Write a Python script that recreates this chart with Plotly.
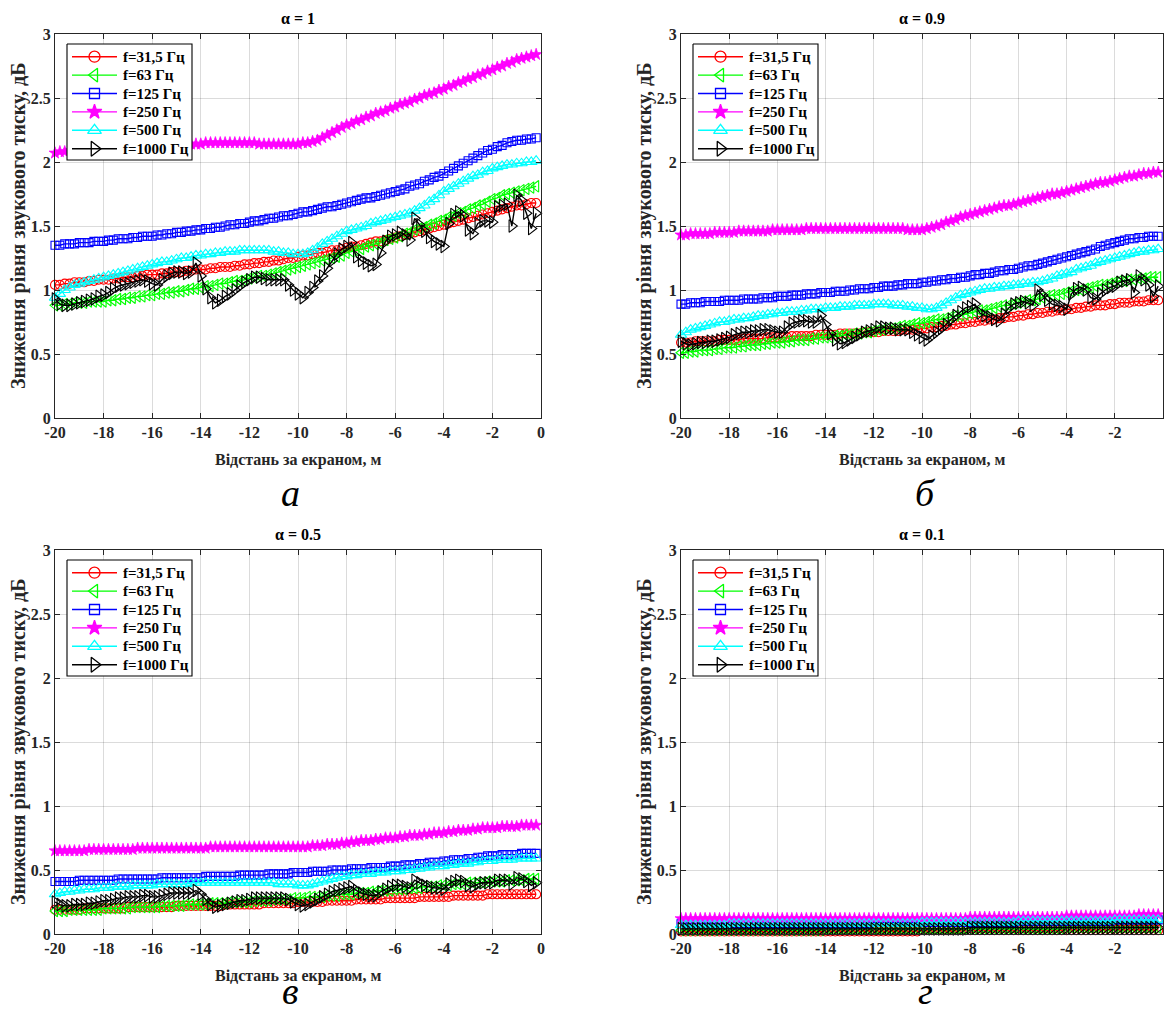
import plotly.graph_objects as go

# ---------------- data ----------------
x_m = [round(-20 + 0.2 * i, 1) for i in range(100)]  # distance behind screen, m
x_ticks = [-20, -18, -16, -14, -12, -10, -8, -6, -4, -2, 0]
y_ticks = [0, 0.5, 1, 1.5, 2, 2.5, 3]
y_tick_text = ["0", "0.5", "1", "1.5", "2", "2.5", "3"]
series_names = ["f=31,5 Гц", "f=63 Гц", "f=125 Гц", "f=250 Гц", "f=500 Гц", "f=1000 Гц"]
panel_titles = ["α = 1", "α = 0.9", "α = 0.5", "α = 0.1"]
panel_letters = ["а", "б", "в", "г"]

# ---- panel а (alpha = 1)
red_a = [1.04,1.04,1.05,1.05,1.06,1.06,1.06,1.07,1.07,1.08,
         1.08,1.08,1.09,1.09,1.10,1.10,1.10,1.11,1.11,1.12,
         1.12,1.12,1.13,1.13,1.14,1.14,1.14,1.15,1.15,1.16,
         1.16,1.16,1.17,1.17,1.18,1.18,1.18,1.19,1.19,1.20,
         1.20,1.21,1.21,1.22,1.22,1.23,1.23,1.24,1.25,1.25,
         1.26,1.27,1.27,1.28,1.29,1.29,1.30,1.31,1.31,1.32,
         1.33,1.34,1.34,1.35,1.36,1.37,1.38,1.38,1.39,1.40,
         1.41,1.42,1.43,1.44,1.45,1.46,1.47,1.48,1.49,1.50,
         1.51,1.52,1.53,1.54,1.55,1.56,1.57,1.58,1.59,1.60,
         1.61,1.62,1.63,1.64,1.65,1.66,1.66,1.67,1.68,1.68]
green_a = [0.88,0.88,0.89,0.89,0.90,0.90,0.90,0.91,0.91,0.91,
           0.91,0.92,0.92,0.93,0.93,0.94,0.94,0.95,0.95,0.96,
           0.96,0.97,0.97,0.98,0.98,0.99,0.99,1.00,1.01,1.01,
           1.02,1.03,1.03,1.04,1.05,1.05,1.06,1.07,1.07,1.08,
           1.09,1.10,1.11,1.11,1.12,1.13,1.14,1.15,1.16,1.17,
           1.18,1.19,1.20,1.21,1.22,1.23,1.24,1.25,1.26,1.27,
           1.29,1.30,1.31,1.32,1.34,1.35,1.36,1.37,1.39,1.40,
           1.41,1.42,1.44,1.45,1.47,1.48,1.49,1.51,1.52,1.54,
           1.55,1.57,1.58,1.60,1.61,1.63,1.64,1.66,1.67,1.69,
           1.71,1.72,1.74,1.75,1.76,1.77,1.78,1.79,1.80,1.81]
blue_a = [1.35,1.35,1.36,1.36,1.36,1.37,1.37,1.37,1.38,1.38,
          1.38,1.39,1.39,1.40,1.40,1.40,1.41,1.41,1.42,1.42,
          1.42,1.43,1.43,1.44,1.44,1.45,1.45,1.46,1.46,1.47,
          1.47,1.48,1.48,1.49,1.49,1.50,1.51,1.51,1.52,1.52,
          1.53,1.54,1.54,1.55,1.56,1.56,1.57,1.58,1.58,1.59,
          1.60,1.61,1.61,1.62,1.63,1.64,1.65,1.65,1.66,1.67,
          1.68,1.69,1.70,1.71,1.72,1.72,1.73,1.74,1.75,1.76,
          1.77,1.78,1.79,1.81,1.82,1.83,1.85,1.86,1.88,1.89,
          1.91,1.93,1.95,1.97,1.99,2.01,2.03,2.05,2.07,2.09,
          2.10,2.12,2.13,2.15,2.16,2.17,2.17,2.18,2.18,2.19]
mag_a = [2.07,2.08,2.08,2.09,2.09,2.09,2.10,2.10,2.10,2.10,
         2.11,2.11,2.11,2.11,2.12,2.12,2.12,2.12,2.12,2.13,
         2.13,2.13,2.13,2.13,2.14,2.14,2.14,2.14,2.14,2.14,
         2.14,2.15,2.15,2.15,2.15,2.15,2.15,2.15,2.15,2.15,
         2.15,2.15,2.14,2.14,2.14,2.14,2.14,2.14,2.14,2.14,
         2.14,2.15,2.15,2.16,2.17,2.19,2.21,2.23,2.25,2.27,
         2.29,2.30,2.32,2.33,2.35,2.36,2.38,2.39,2.40,2.42,
         2.43,2.45,2.46,2.47,2.49,2.50,2.52,2.53,2.54,2.56,
         2.57,2.59,2.60,2.62,2.63,2.65,2.66,2.68,2.69,2.71,
         2.72,2.74,2.75,2.77,2.78,2.80,2.81,2.82,2.83,2.84]
cyan_a = [0.94,0.97,1.00,1.02,1.04,1.05,1.06,1.07,1.08,1.09,
          1.10,1.11,1.12,1.13,1.14,1.15,1.16,1.17,1.18,1.19,
          1.20,1.21,1.22,1.22,1.23,1.24,1.25,1.25,1.26,1.27,
          1.27,1.28,1.28,1.29,1.29,1.30,1.30,1.30,1.31,1.31,
          1.31,1.31,1.31,1.31,1.31,1.30,1.30,1.29,1.29,1.28,
          1.28,1.28,1.29,1.31,1.33,1.36,1.38,1.40,1.42,1.44,
          1.46,1.47,1.48,1.49,1.50,1.52,1.53,1.54,1.55,1.56,
          1.57,1.58,1.59,1.60,1.62,1.64,1.66,1.69,1.71,1.74,
          1.77,1.79,1.81,1.83,1.85,1.87,1.89,1.90,1.92,1.93,
          1.95,1.96,1.97,1.98,1.98,1.99,1.99,2.00,2.00,2.01]
black_a = [0.93,0.89,0.88,0.88,0.89,0.90,0.91,0.92,0.93,0.95,
           0.96,0.98,1.01,1.03,1.04,1.05,1.06,1.07,1.08,1.07,
           1.05,1.04,1.08,1.11,1.13,1.14,1.14,1.13,1.14,1.21,
           1.11,1.01,0.94,0.90,0.92,0.95,0.97,1.00,1.03,1.06,
           1.08,1.10,1.10,1.09,1.08,1.08,1.08,1.08,1.04,1.00,
           0.97,0.94,0.98,1.02,1.07,1.11,1.17,1.23,1.28,1.32,
           1.34,1.37,1.26,1.23,1.21,1.19,1.20,1.29,1.38,1.42,
           1.43,1.45,1.43,1.39,1.56,1.51,1.46,1.41,1.38,1.36,
           1.34,1.52,1.59,1.61,1.58,1.47,1.44,1.52,1.54,1.54,
           1.53,1.65,1.66,1.67,1.50,1.74,1.70,1.60,1.48,1.60]

# ---- panel б (alpha = 0.9)
red_b = [0.59,0.59,0.59,0.60,0.60,0.60,0.60,0.60,0.61,0.61,
         0.61,0.61,0.61,0.62,0.62,0.62,0.62,0.62,0.63,0.63,
         0.63,0.63,0.63,0.64,0.64,0.64,0.64,0.64,0.65,0.65,
         0.65,0.65,0.65,0.66,0.66,0.66,0.66,0.66,0.67,0.67,
         0.67,0.67,0.68,0.68,0.68,0.68,0.69,0.69,0.69,0.69,
         0.70,0.70,0.71,0.71,0.72,0.72,0.73,0.73,0.74,0.74,
         0.75,0.75,0.76,0.76,0.77,0.77,0.78,0.78,0.79,0.79,
         0.80,0.80,0.81,0.81,0.82,0.82,0.83,0.83,0.84,0.84,
         0.85,0.85,0.86,0.86,0.87,0.87,0.88,0.88,0.88,0.89,
         0.89,0.90,0.90,0.90,0.91,0.91,0.91,0.92,0.92,0.92]
green_b = [0.51,0.51,0.52,0.52,0.53,0.53,0.53,0.54,0.54,0.55,
           0.55,0.55,0.56,0.56,0.57,0.57,0.57,0.58,0.58,0.59,
           0.59,0.59,0.60,0.60,0.61,0.61,0.61,0.62,0.62,0.63,
           0.63,0.63,0.64,0.64,0.65,0.65,0.66,0.66,0.67,0.67,
           0.68,0.69,0.69,0.70,0.70,0.71,0.72,0.72,0.73,0.74,
           0.74,0.75,0.76,0.77,0.77,0.78,0.79,0.80,0.80,0.81,
           0.82,0.83,0.84,0.84,0.85,0.86,0.87,0.88,0.88,0.89,
           0.90,0.91,0.92,0.92,0.93,0.94,0.95,0.96,0.96,0.97,
           0.98,0.99,1.00,1.00,1.01,1.02,1.03,1.04,1.04,1.05,
           1.06,1.07,1.07,1.08,1.08,1.09,1.09,1.10,1.10,1.10]
blue_b = [0.89,0.89,0.90,0.90,0.90,0.91,0.91,0.91,0.91,0.92,
          0.92,0.92,0.92,0.93,0.93,0.93,0.93,0.94,0.94,0.94,
          0.95,0.95,0.95,0.96,0.96,0.96,0.97,0.97,0.97,0.98,
          0.98,0.98,0.99,0.99,0.99,1.00,1.00,1.01,1.01,1.01,
          1.02,1.02,1.03,1.03,1.03,1.04,1.04,1.05,1.05,1.05,
          1.06,1.06,1.07,1.07,1.08,1.08,1.09,1.09,1.10,1.10,
          1.11,1.12,1.12,1.13,1.13,1.14,1.15,1.15,1.16,1.16,
          1.17,1.18,1.19,1.19,1.20,1.21,1.22,1.23,1.24,1.25,
          1.26,1.27,1.28,1.29,1.30,1.31,1.32,1.34,1.35,1.36,
          1.37,1.38,1.39,1.40,1.40,1.41,1.41,1.42,1.42,1.42]
mag_b = [1.43,1.43,1.44,1.44,1.44,1.44,1.44,1.45,1.45,1.45,
         1.45,1.45,1.46,1.46,1.46,1.46,1.46,1.46,1.46,1.47,
         1.47,1.47,1.47,1.47,1.47,1.47,1.48,1.48,1.48,1.48,
         1.48,1.48,1.48,1.48,1.48,1.48,1.48,1.48,1.48,1.48,
         1.48,1.48,1.48,1.48,1.48,1.48,1.48,1.47,1.47,1.47,
         1.47,1.48,1.49,1.50,1.51,1.53,1.54,1.55,1.57,1.58,
         1.59,1.60,1.61,1.62,1.63,1.64,1.65,1.66,1.66,1.67,
         1.68,1.69,1.70,1.71,1.72,1.73,1.74,1.75,1.75,1.76,
         1.77,1.78,1.79,1.80,1.81,1.82,1.83,1.84,1.84,1.85,
         1.86,1.87,1.88,1.89,1.89,1.90,1.91,1.91,1.92,1.92]
cyan_b = [0.65,0.67,0.69,0.70,0.71,0.72,0.73,0.74,0.75,0.75,
          0.76,0.77,0.77,0.78,0.78,0.79,0.80,0.80,0.81,0.81,
          0.82,0.82,0.83,0.83,0.83,0.84,0.84,0.85,0.85,0.85,
          0.86,0.86,0.86,0.87,0.87,0.87,0.88,0.88,0.88,0.88,
          0.89,0.89,0.89,0.89,0.88,0.88,0.88,0.87,0.87,0.86,
          0.86,0.85,0.85,0.86,0.88,0.90,0.92,0.94,0.96,0.97,
          0.98,0.99,1.00,1.01,1.01,1.02,1.02,1.03,1.03,1.04,
          1.04,1.05,1.05,1.06,1.06,1.07,1.08,1.09,1.11,1.12,
          1.13,1.14,1.16,1.17,1.18,1.19,1.21,1.22,1.23,1.24,
          1.25,1.26,1.27,1.28,1.29,1.30,1.30,1.31,1.31,1.32]
black_b = [0.60,0.58,0.57,0.58,0.59,0.59,0.60,0.60,0.61,0.62,
           0.63,0.65,0.66,0.67,0.67,0.68,0.68,0.69,0.69,0.68,
           0.67,0.67,0.71,0.74,0.75,0.76,0.76,0.75,0.75,0.80,
           0.73,0.66,0.61,0.58,0.59,0.61,0.63,0.65,0.67,0.68,
           0.69,0.71,0.71,0.70,0.70,0.69,0.69,0.69,0.67,0.65,
           0.63,0.61,0.64,0.67,0.70,0.73,0.77,0.80,0.83,0.86,
           0.87,0.89,0.82,0.80,0.79,0.77,0.76,0.81,0.86,0.89,
           0.90,0.91,0.90,0.88,1.00,0.96,0.92,0.89,0.88,0.87,
           0.85,0.97,1.01,1.02,1.00,0.94,0.93,0.97,1.00,1.02,
           1.03,1.06,1.07,1.08,0.98,1.11,1.08,1.04,0.95,1.03]

# ---- panel в (alpha = 0.5)
red_c = [0.19,0.19,0.19,0.19,0.19,0.19,0.20,0.20,0.20,0.20,
         0.20,0.20,0.20,0.20,0.20,0.21,0.21,0.21,0.21,0.21,
         0.21,0.21,0.21,0.21,0.21,0.22,0.22,0.22,0.22,0.22,
         0.22,0.22,0.22,0.22,0.22,0.23,0.23,0.23,0.23,0.23,
         0.23,0.23,0.23,0.24,0.24,0.24,0.24,0.24,0.24,0.24,
         0.25,0.25,0.25,0.25,0.25,0.25,0.26,0.26,0.26,0.26,
         0.26,0.26,0.27,0.27,0.27,0.27,0.27,0.27,0.28,0.28,
         0.28,0.28,0.28,0.28,0.28,0.29,0.29,0.29,0.29,0.29,
         0.29,0.29,0.30,0.30,0.30,0.30,0.30,0.30,0.30,0.31,
         0.31,0.31,0.31,0.31,0.31,0.31,0.31,0.31,0.31,0.31]
green_c = [0.18,0.18,0.18,0.19,0.19,0.19,0.19,0.19,0.19,0.19,
           0.20,0.20,0.20,0.20,0.20,0.20,0.21,0.21,0.21,0.21,
           0.21,0.21,0.22,0.22,0.22,0.22,0.22,0.23,0.23,0.23,
           0.23,0.23,0.24,0.24,0.24,0.24,0.25,0.25,0.25,0.25,
           0.25,0.26,0.26,0.26,0.26,0.27,0.27,0.27,0.27,0.28,
           0.28,0.28,0.29,0.29,0.29,0.29,0.30,0.30,0.30,0.31,
           0.31,0.31,0.32,0.32,0.32,0.33,0.33,0.34,0.34,0.34,
           0.35,0.35,0.35,0.36,0.36,0.36,0.37,0.37,0.37,0.38,
           0.38,0.38,0.39,0.39,0.39,0.40,0.40,0.40,0.40,0.41,
           0.41,0.41,0.41,0.42,0.42,0.42,0.42,0.43,0.43,0.43]
blue_c = [0.41,0.41,0.41,0.41,0.41,0.42,0.42,0.42,0.42,0.42,
          0.42,0.42,0.42,0.43,0.43,0.43,0.43,0.43,0.43,0.43,
          0.43,0.43,0.44,0.44,0.44,0.44,0.44,0.44,0.44,0.44,
          0.44,0.45,0.45,0.45,0.45,0.45,0.45,0.45,0.46,0.46,
          0.46,0.46,0.46,0.46,0.47,0.47,0.47,0.47,0.47,0.48,
          0.48,0.48,0.48,0.49,0.49,0.49,0.49,0.50,0.50,0.50,
          0.50,0.51,0.51,0.51,0.51,0.52,0.52,0.52,0.52,0.53,
          0.53,0.53,0.54,0.54,0.54,0.55,0.55,0.56,0.56,0.56,
          0.57,0.57,0.58,0.58,0.58,0.59,0.59,0.60,0.60,0.61,
          0.61,0.61,0.62,0.62,0.62,0.62,0.63,0.63,0.63,0.63]
mag_c = [0.65,0.65,0.65,0.65,0.65,0.65,0.65,0.66,0.66,0.66,
         0.66,0.66,0.66,0.66,0.66,0.66,0.66,0.67,0.67,0.67,
         0.67,0.67,0.67,0.67,0.67,0.67,0.67,0.67,0.67,0.67,
         0.67,0.67,0.68,0.68,0.68,0.68,0.68,0.68,0.68,0.68,
         0.68,0.68,0.68,0.68,0.68,0.68,0.68,0.68,0.68,0.68,
         0.68,0.68,0.68,0.69,0.69,0.69,0.70,0.70,0.70,0.71,
         0.71,0.72,0.72,0.73,0.73,0.73,0.74,0.74,0.75,0.75,
         0.75,0.76,0.76,0.77,0.77,0.77,0.78,0.78,0.79,0.79,
         0.79,0.80,0.80,0.81,0.81,0.81,0.82,0.82,0.83,0.83,
         0.83,0.83,0.84,0.84,0.84,0.84,0.85,0.85,0.85,0.85]
cyan_c = [0.31,0.32,0.33,0.33,0.34,0.34,0.35,0.35,0.35,0.36,
          0.36,0.36,0.37,0.37,0.37,0.37,0.38,0.38,0.38,0.38,
          0.38,0.39,0.39,0.39,0.39,0.39,0.39,0.39,0.40,0.40,
          0.40,0.40,0.40,0.40,0.40,0.40,0.40,0.40,0.40,0.40,
          0.40,0.40,0.40,0.40,0.40,0.40,0.39,0.39,0.39,0.39,
          0.38,0.38,0.38,0.39,0.40,0.41,0.42,0.43,0.44,0.45,
          0.45,0.46,0.46,0.47,0.47,0.47,0.48,0.48,0.48,0.49,
          0.49,0.49,0.50,0.50,0.51,0.51,0.52,0.52,0.53,0.53,
          0.53,0.54,0.54,0.55,0.55,0.55,0.56,0.56,0.57,0.57,
          0.57,0.58,0.58,0.58,0.58,0.59,0.59,0.59,0.59,0.59]
black_c = [0.25,0.23,0.22,0.22,0.23,0.23,0.23,0.24,0.24,0.25,
           0.26,0.26,0.27,0.28,0.28,0.29,0.29,0.29,0.30,0.30,
           0.29,0.29,0.30,0.31,0.32,0.32,0.32,0.32,0.32,0.34,
           0.31,0.27,0.23,0.21,0.22,0.23,0.24,0.25,0.26,0.26,
           0.27,0.28,0.28,0.28,0.28,0.28,0.28,0.28,0.27,0.25,
           0.23,0.22,0.23,0.25,0.27,0.29,0.31,0.33,0.34,0.35,
           0.36,0.37,0.34,0.32,0.31,0.30,0.30,0.33,0.35,0.37,
           0.38,0.38,0.37,0.36,0.42,0.40,0.38,0.37,0.36,0.36,
           0.35,0.39,0.41,0.42,0.41,0.38,0.37,0.39,0.40,0.40,
           0.40,0.42,0.42,0.42,0.39,0.44,0.43,0.41,0.38,0.40]

# ---- panel г (alpha = 0.1)
red_d = [0.02,0.02,0.02,0.02,0.02,0.02,0.02,0.02,0.02,0.02,
         0.02,0.02,0.02,0.02,0.02,0.02,0.02,0.02,0.02,0.02,
         0.02,0.02,0.02,0.02,0.02,0.02,0.02,0.02,0.02,0.02,
         0.02,0.02,0.02,0.02,0.02,0.02,0.02,0.02,0.02,0.02,
         0.02,0.02,0.02,0.02,0.02,0.02,0.02,0.02,0.02,0.02,
         0.03,0.03,0.03,0.03,0.03,0.03,0.03,0.03,0.03,0.03,
         0.03,0.03,0.03,0.03,0.03,0.03,0.03,0.03,0.03,0.03,
         0.03,0.03,0.03,0.03,0.03,0.03,0.03,0.03,0.03,0.03,
         0.03,0.03,0.03,0.03,0.03,0.03,0.03,0.03,0.03,0.03,
         0.03,0.03,0.03,0.03,0.03,0.03,0.03,0.03,0.03,0.03]
green_d = [0.03,0.03,0.03,0.03,0.03,0.03,0.03,0.03,0.03,0.03,
           0.03,0.03,0.03,0.03,0.03,0.03,0.03,0.03,0.03,0.03,
           0.03,0.03,0.03,0.03,0.03,0.03,0.03,0.03,0.03,0.03,
           0.04,0.04,0.04,0.04,0.04,0.04,0.04,0.04,0.04,0.04,
           0.04,0.04,0.04,0.04,0.04,0.04,0.04,0.04,0.04,0.04,
           0.04,0.04,0.04,0.04,0.04,0.04,0.04,0.04,0.04,0.04,
           0.04,0.04,0.04,0.04,0.04,0.04,0.04,0.04,0.04,0.04,
           0.04,0.04,0.04,0.04,0.04,0.04,0.04,0.04,0.04,0.04,
           0.05,0.05,0.05,0.05,0.05,0.05,0.05,0.05,0.05,0.05,
           0.05,0.05,0.05,0.05,0.05,0.05,0.05,0.05,0.05,0.05]
blue_d = [0.08,0.08,0.08,0.08,0.08,0.08,0.08,0.08,0.08,0.08,
          0.08,0.08,0.08,0.08,0.08,0.08,0.08,0.08,0.08,0.08,
          0.08,0.08,0.08,0.08,0.08,0.08,0.08,0.08,0.08,0.08,
          0.08,0.08,0.08,0.08,0.08,0.08,0.08,0.08,0.08,0.08,
          0.09,0.09,0.09,0.09,0.09,0.09,0.09,0.09,0.09,0.09,
          0.09,0.09,0.09,0.09,0.09,0.09,0.09,0.09,0.09,0.09,
          0.09,0.09,0.09,0.09,0.09,0.09,0.09,0.09,0.09,0.09,
          0.10,0.10,0.10,0.10,0.10,0.10,0.10,0.10,0.10,0.10,
          0.10,0.10,0.10,0.10,0.10,0.10,0.10,0.10,0.10,0.10,
          0.11,0.11,0.11,0.11,0.11,0.11,0.11,0.11,0.11,0.11]
mag_d = [0.12,0.12,0.12,0.12,0.12,0.12,0.12,0.12,0.12,0.12,
         0.12,0.12,0.12,0.12,0.12,0.12,0.12,0.12,0.12,0.12,
         0.12,0.12,0.12,0.12,0.12,0.12,0.12,0.12,0.12,0.12,
         0.12,0.12,0.12,0.12,0.12,0.12,0.12,0.12,0.12,0.12,
         0.12,0.12,0.12,0.12,0.12,0.12,0.12,0.12,0.12,0.12,
         0.12,0.12,0.12,0.12,0.12,0.12,0.12,0.12,0.12,0.12,
         0.13,0.13,0.13,0.13,0.13,0.13,0.13,0.13,0.13,0.13,
         0.13,0.13,0.13,0.13,0.13,0.13,0.13,0.13,0.13,0.13,
         0.14,0.14,0.14,0.14,0.14,0.14,0.14,0.14,0.14,0.14,
         0.14,0.14,0.14,0.14,0.14,0.15,0.15,0.15,0.15,0.15]
cyan_d = [0.07,0.07,0.07,0.07,0.07,0.07,0.07,0.07,0.07,0.07,
          0.08,0.08,0.08,0.08,0.08,0.08,0.08,0.08,0.08,0.08,
          0.08,0.08,0.08,0.08,0.08,0.08,0.08,0.08,0.08,0.08,
          0.08,0.08,0.08,0.08,0.08,0.08,0.08,0.08,0.08,0.08,
          0.08,0.08,0.08,0.08,0.08,0.08,0.08,0.08,0.08,0.08,
          0.09,0.09,0.09,0.09,0.09,0.09,0.09,0.09,0.09,0.09,
          0.09,0.09,0.09,0.09,0.09,0.09,0.09,0.09,0.09,0.09,
          0.10,0.10,0.10,0.10,0.10,0.10,0.10,0.10,0.10,0.10,
          0.10,0.10,0.10,0.10,0.10,0.10,0.10,0.10,0.10,0.10,
          0.11,0.11,0.11,0.11,0.11,0.11,0.11,0.11,0.11,0.11]
black_d = [0.04,0.04,0.04,0.04,0.04,0.04,0.04,0.04,0.04,0.04,
           0.04,0.04,0.04,0.04,0.04,0.04,0.04,0.04,0.04,0.04,
           0.04,0.04,0.04,0.04,0.04,0.04,0.04,0.04,0.04,0.04,
           0.04,0.04,0.04,0.04,0.04,0.04,0.04,0.04,0.04,0.04,
           0.04,0.04,0.04,0.04,0.04,0.04,0.04,0.04,0.04,0.04,
           0.04,0.04,0.04,0.04,0.04,0.04,0.04,0.04,0.04,0.04,
           0.05,0.05,0.05,0.05,0.05,0.05,0.05,0.05,0.05,0.05,
           0.05,0.05,0.05,0.05,0.05,0.05,0.05,0.05,0.05,0.05,
           0.05,0.05,0.05,0.05,0.05,0.05,0.05,0.05,0.05,0.05,
           0.05,0.05,0.05,0.05,0.05,0.05,0.05,0.05,0.05,0.05]

panel_data = [
    [red_a, green_a, blue_a, mag_a, cyan_a, black_a],
    [red_b, green_b, blue_b, mag_b, cyan_b, black_b],
    [red_c, green_c, blue_c, mag_c, cyan_c, black_c],
    [red_d, green_d, blue_d, mag_d, cyan_d, black_d],
]
for p in panel_data:
    for s in p:
        assert len(s) == len(x_m), len(s)

# ---------------- styling ----------------
PAGE_W, PAGE_H = 1172, 1022
OFF = 8                      # default page margin of the html body
W, H = PAGE_W - 2 * OFF, PAGE_H - 2 * OFF
colors = ["#ff0000", "#00ff00", "#0000ff", "#ff00ff", "#00ffff", "#000000"]
symbols = ["circle-open", "triangle-left-open", "square-open", "star",
           "triangle-up-open", "triangle-right-open"]
msizes = [9, 10, 8, 9, 10, 11]
mlw = [1.1, 1.1, 1.1, 0.7, 1.1, 1.1]
SERIF = "Liberation Serif, Times New Roman, serif"
AX = "#262626"

# plot boxes in page pixels: (left, right, top, bottom)
boxes = [(55, 541, 34, 418), (681, 1163, 34, 418),
         (55, 541, 550, 934), (681, 1163, 550, 934)]

def px(xp):
    return (xp - OFF) / W

def py(yp):
    return 1 - (yp - OFF) / H

fig = go.Figure()
layout = dict(
    width=W, height=H,
    margin=dict(l=0, r=0, t=0, b=0, autoexpand=False),
    paper_bgcolor="white", plot_bgcolor="rgba(0,0,0,0)",
    font=dict(family=SERIF, color=AX),
    showlegend=False,
)
annotations = []

for k in range(4):
    l, r, t, b = boxes[k]
    sfx = "" if k == 0 else str(k + 1)
    xa = "x" + sfx
    ya = "y" + sfx
    for j in range(6):
        fig.add_trace(go.Scatter(
            x=x_m, y=panel_data[k][j], name=series_names[j],
            mode="lines+markers", xaxis=xa, yaxis=ya,
            cliponaxis=False, showlegend=False,
            line=dict(color=colors[j], width=1.4),
            marker=dict(symbol=symbols[j], size=msizes[j], color=colors[j],
                        line=dict(color=colors[j], width=mlw[j])),
        ))
    common = dict(
        showline=True, linecolor=AX, linewidth=1.3, mirror="ticks",
        ticks="inside", ticklen=5, tickwidth=1, tickcolor=AX,
        showgrid=True, gridcolor="rgba(0,0,0,0.14)", gridwidth=1,
        zeroline=False, automargin=False,
        tickfont=dict(family=SERIF, size=16, color=AX, weight="bold"),
    )
    layout["xaxis" + sfx] = dict(
        domain=[px(l), px(r)], anchor=ya, range=[-20, 0],
        tickmode="array", tickvals=x_ticks, ticktext=[str(v) for v in x_ticks],
        **common)
    layout["yaxis" + sfx] = dict(
        domain=[py(b), py(t)], anchor=xa, range=[0, 3],
        tickmode="array", tickvals=y_ticks, ticktext=y_tick_text,
        **common)
    cx = (l + r) / 2
    annotations.append(dict(
        text=panel_titles[k], x=px(cx), y=py(t - 16), xref="paper", yref="paper",
        showarrow=False, xanchor="center", yanchor="middle",
        font=dict(family=SERIF, size=16, color="#000000", weight="bold")))
    annotations.append(dict(
        text="Відстань за екраном, м", x=px(cx), y=py(b + 42), xref="paper", yref="paper",
        showarrow=False, xanchor="center", yanchor="middle",
        font=dict(family=SERIF, size=16, color=AX, weight="bold")))
    annotations.append(dict(
        text="Зниження рівня звукового тиску, дБ", x=px(l - 37), y=py((t + b) / 2),
        xref="paper", yref="paper", textangle=-90,
        showarrow=False, xanchor="center", yanchor="middle",
        font=dict(family=SERIF, size=20, color=AX, weight="bold")))
    lx = cx - 8 if k in (0, 2) else cx + 3
    ly = b + 98 if k < 2 else OFF + H
    annotations.append(dict(
        text=panel_letters[k], x=px(lx), y=py(ly),
        xref="paper", yref="paper",
        showarrow=False, xanchor="center", yanchor="bottom",
        font=dict(family=SERIF, size=38, color="#000000", style="italic")))

# ---------- hand-drawn legends (overlay axis in page-pixel units) ----------
layout["xaxis5"] = dict(domain=[0, 1], range=[OFF, OFF + W], visible=False,
                        fixedrange=True, anchor="y5", automargin=False)
layout["yaxis5"] = dict(domain=[0, 1], range=[OFF + H, OFF], visible=False,
                        fixedrange=True, anchor="x5", automargin=False)
ROW0, ROWH = 22.7, 18.4
for k in range(4):
    l, r, t, b = boxes[k]
    bx0, bx1, by0, by1 = l + 12, l + 137, t + 10, t + 126
    fig.add_trace(go.Scatter(
        x=[bx0, bx1, bx1, bx0, bx0], y=[by0, by0, by1, by1, by0],
        mode="lines", fill="toself", fillcolor="white",
        line=dict(color="#000000", width=1.1), xaxis="x5", yaxis="y5",
        showlegend=False, hoverinfo="skip"))
    for j in range(6):
        yy = t + ROW0 + ROWH * j
        fig.add_trace(go.Scatter(
            x=[l + 17, l + 62], y=[yy, yy], mode="lines",
            line=dict(color=colors[j], width=1.4), xaxis="x5", yaxis="y5",
            showlegend=False, hoverinfo="skip"))
        fig.add_trace(go.Scatter(
            x=[l + 39.5], y=[yy], mode="markers", xaxis="x5", yaxis="y5",
            marker=dict(symbol=symbols[j], size=msizes[j] + 2, color=colors[j],
                        line=dict(color=colors[j], width=1.3)),
            showlegend=False, hoverinfo="skip"))
        annotations.append(dict(
            text=series_names[j], x=px(l + 66), y=py(yy), xref="paper", yref="paper",
            showarrow=False, xanchor="left", yanchor="middle",
            font=dict(family=SERIF, size=15, color="#000000", weight="bold")))

layout["annotations"] = annotations
fig.update_layout(**layout)
fig.write_html("out.html")
